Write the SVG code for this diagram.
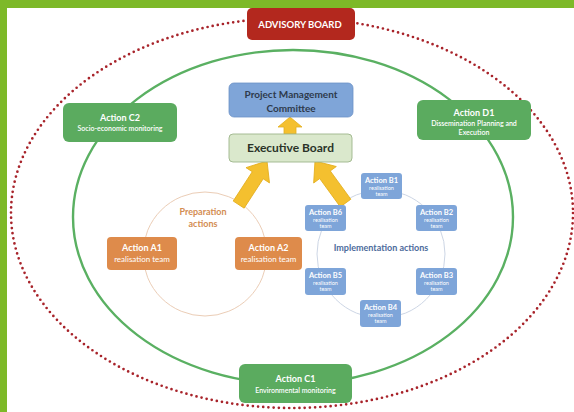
<svg xmlns="http://www.w3.org/2000/svg" width="574" height="412" viewBox="0 0 574 412">
<defs>
<style>
text{font-family:Lato,"Liberation Sans",sans-serif;text-anchor:middle}
.green rect{fill:#5BAB5F}
.wt{fill:#fff}
.b{font-weight:bold}
.s{font-weight:600}
.blue rect{fill:#7EA5D9}
.orange rect{fill:#DE8B4B}
.arrow{fill:#F4C02F;stroke:#E3AE1E;stroke-width:0.8}
</style>
</defs>
<rect x="0" y="0" width="574" height="412" fill="#fff"/>
<rect x="0" y="0" width="574" height="8" fill="#7DB928"/>
<rect x="0" y="0" width="7" height="412" fill="#7DB928"/>

<g id="rings">
<ellipse cx="292" cy="213" rx="281" ry="195" fill="none" stroke="#A8232A" stroke-width="2.7" stroke-linecap="round" stroke-dasharray="0 5.2"/>
<ellipse cx="293" cy="217" rx="220" ry="167" fill="none" stroke="#5AB062" stroke-width="2.4"/>
<circle cx="205" cy="254" r="62" fill="none" stroke="#EBCDB6" stroke-width="1"/>
<circle cx="381" cy="254" r="64" fill="none" stroke="#CDD6E5" stroke-width="1"/>
</g>

<g id="connectors">
<polygon class="arrow" points="290,117 302,127 296,127 296,134 284,134 284,127 278,127"/>
<polygon class="arrow" transform="translate(267,161) rotate(33)" points="0,0 14,17 6.5,17 6.5,52 -6.5,52 -6.5,17 -14,17"/>
<polygon class="arrow" transform="translate(315,161) rotate(-36)" points="0,0 14,17 6.5,17 6.5,52 -6.5,52 -6.5,17 -14,17"/>
</g>

<g id="advisory">
<rect x="247" y="8" width="108" height="32" rx="5" fill="#B3281E"/>
<text x="300" y="27.5" class="wt b" font-size="9.5">ADVISORY BOARD</text>
</g>

<g id="pmc">
<rect x="229" y="83" width="124" height="34" rx="5" fill="#7FA5D8" stroke="#6D92C6" stroke-width="0.8"/>
<text x="291" y="98" font-size="10" class="b" fill="#2E3A4C">Project Management</text>
<text x="291" y="112" font-size="10" class="b" fill="#2E3A4C">Committee</text>
</g>

<g id="exec">
<rect x="229" y="134" width="123" height="28" rx="4" fill="#DAE8CC" stroke="#9DB68A" stroke-width="0.9"/>
<text x="290.5" y="152" font-size="12" class="b" fill="#2A3328">Executive Board</text>
</g>

<g id="c2" class="green">
<rect x="63" y="103" width="114" height="39" rx="6"/>
<text x="120" y="121" font-size="9" class="wt b">Action C2</text>
<text x="120" y="131" font-size="7" class="wt s">Socio-economic monitoring</text>
</g>

<g id="d1" class="green">
<rect x="417" y="100" width="114" height="40" rx="6"/>
<text x="474" y="116" font-size="9" class="wt b">Action D1</text>
<text x="474" y="125.5" font-size="7" class="wt s">Dissemination Planning and</text>
<text x="474" y="134.5" font-size="7" class="wt s">Execution</text>
</g>

<g id="c1" class="green">
<rect x="239" y="364" width="113" height="39" rx="6"/>
<text x="295.5" y="382" font-size="9" class="wt b">Action C1</text>
<text x="295.5" y="392.5" font-size="7" class="wt s">Environmental monitoring</text>
</g>

<g id="prep">
<text x="203" y="215" font-size="9" class="b" fill="#D38D52">Preparation</text>
<text x="203" y="227" font-size="9" class="b" fill="#D38D52">actions</text>
</g>

<g id="a1" class="orange">
<rect x="107" y="237" width="70" height="33" rx="4"/>
<text x="142" y="251" font-size="9" class="wt b">Action A1</text>
<text x="142" y="262" font-size="8" class="wt">realisation team</text>
</g>

<g id="a2" class="orange">
<rect x="235" y="237" width="67" height="33" rx="4"/>
<text x="268.5" y="251" font-size="9" class="wt b">Action A2</text>
<text x="268.5" y="262" font-size="8" class="wt">realisation team</text>
</g>

<g id="impl">
<text x="381" y="251" font-size="9" class="b" fill="#4D6C9C">Implementation actions</text>
</g>

<g id="b1" class="blue">
<rect x="361" y="173" width="41" height="26" rx="3"/>
<text x="381.5" y="182.5" font-size="7.5" class="wt b">Action B1</text>
<text x="381.5" y="189.5" font-size="5.5" class="wt">realisation</text>
<text x="381.5" y="196" font-size="5.5" class="wt">team</text>
</g>
<g id="b2" class="blue">
<rect x="416" y="205" width="41" height="26" rx="3"/>
<text x="436.5" y="214.5" font-size="7.5" class="wt b">Action B2</text>
<text x="436.5" y="221.5" font-size="5.5" class="wt">realisation</text>
<text x="436.5" y="228" font-size="5.5" class="wt">team</text>
</g>
<g id="b3" class="blue">
<rect x="416" y="268" width="41" height="27" rx="3"/>
<text x="436.5" y="277.5" font-size="7.5" class="wt b">Action B3</text>
<text x="436.5" y="284.5" font-size="5.5" class="wt">realisation</text>
<text x="436.5" y="291" font-size="5.5" class="wt">team</text>
</g>
<g id="b4" class="blue">
<rect x="360" y="300" width="41" height="27" rx="3"/>
<text x="380.5" y="309.5" font-size="7.5" class="wt b">Action B4</text>
<text x="380.5" y="316.5" font-size="5.5" class="wt">realisation</text>
<text x="380.5" y="323" font-size="5.5" class="wt">team</text>
</g>
<g id="b5" class="blue">
<rect x="305" y="268" width="41" height="27" rx="3"/>
<text x="325.5" y="277.5" font-size="7.5" class="wt b">Action B5</text>
<text x="325.5" y="284.5" font-size="5.5" class="wt">realisation</text>
<text x="325.5" y="291" font-size="5.5" class="wt">team</text>
</g>
<g id="b6" class="blue">
<rect x="305" y="205" width="41" height="26" rx="3"/>
<text x="325.5" y="214.5" font-size="7.5" class="wt b">Action B6</text>
<text x="325.5" y="221.5" font-size="5.5" class="wt">realisation</text>
<text x="325.5" y="228" font-size="5.5" class="wt">team</text>
</g>
</svg>
